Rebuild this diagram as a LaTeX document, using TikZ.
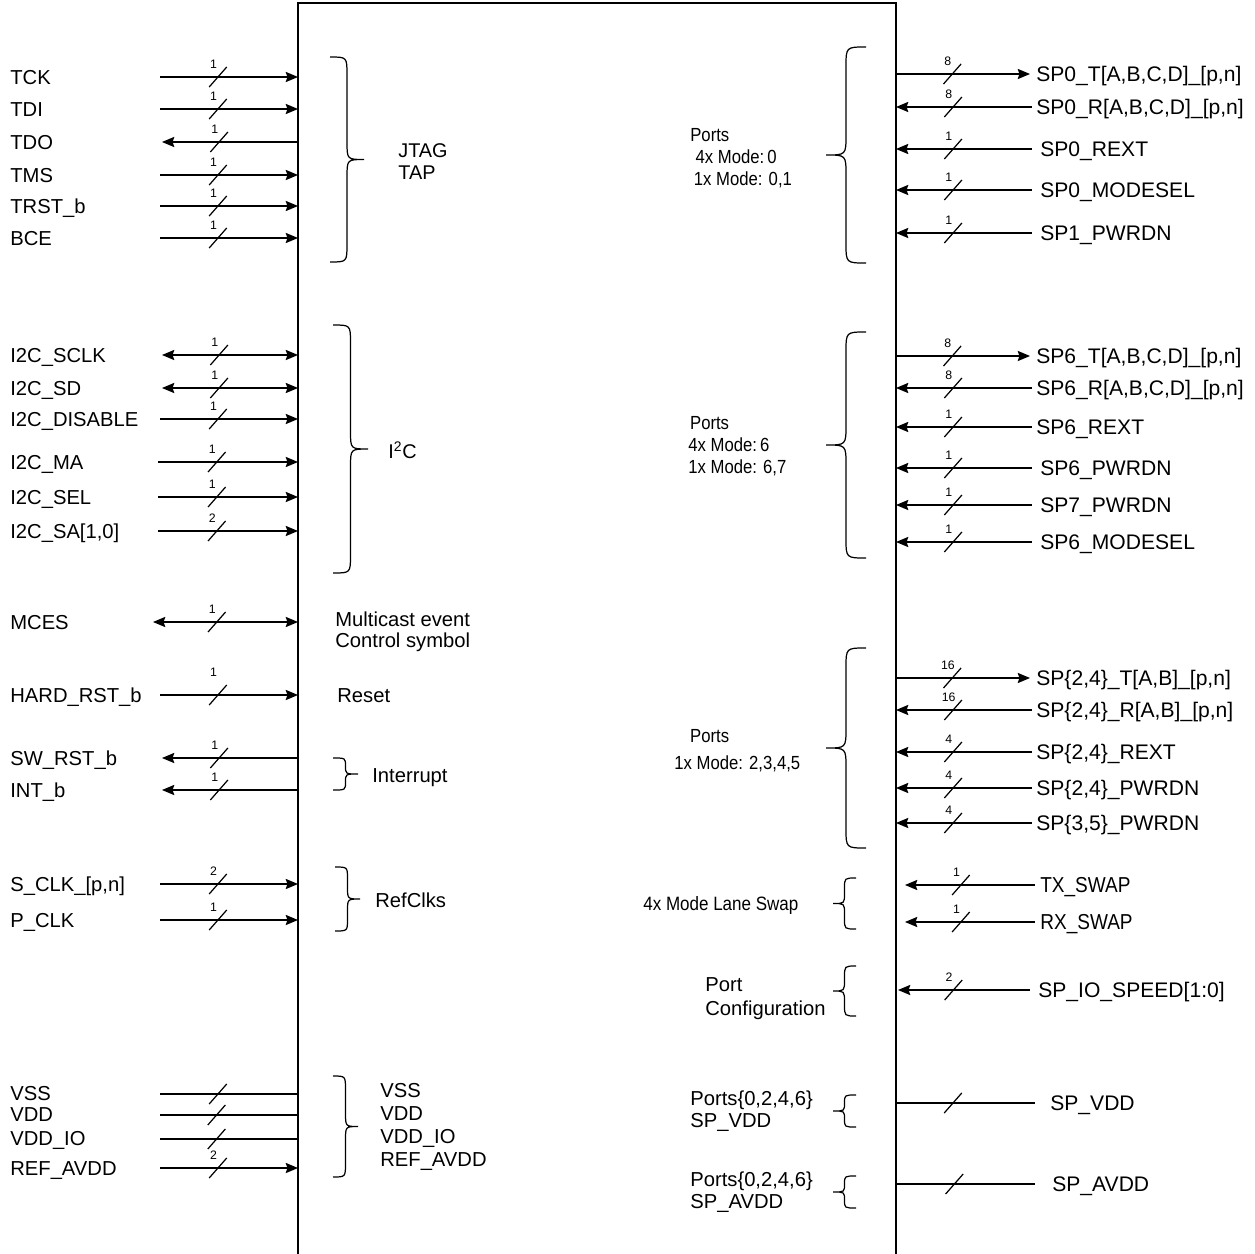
\documentclass[tikz,border=0pt]{standalone}
\usepackage{fontspec}
\setmainfont{Liberation Sans}
\newfontfamily\narrowsf[FakeStretch=0.88]{Liberation Sans}
\usetikzlibrary{arrows.meta}

% brace: x of the ends, top, bottom, signed width, corner size
\newcommand{\grpbrace}[5]{%
  \draw[grp] (#1,#2) .. controls ({#1+0.5*#4},#2) .. ({#1+0.5*#4},{#2+#5})
    -- ({#1+0.5*#4},{(#2+#3)/2-#5}) .. controls ({#1+0.5*#4},{(#2+#3)/2}) .. ({#1+#4},{(#2+#3)/2})
    .. controls ({#1+0.5*#4},{(#2+#3)/2}) .. ({#1+0.5*#4},{(#2+#3)/2+#5})
    -- ({#1+0.5*#4},{#3-#5}) .. controls ({#1+0.5*#4},#3) .. (#1,#3);}

\begin{document}
\begin{tikzpicture}[x=0.02cm,y=-0.02cm,
  wire/.style={line width=0.75pt},
  grp/.style={line width=0.7pt},
  lab/.style={anchor=west,inner sep=0pt,text height=8pt,text depth=0pt,font=\fontsize{11.5}{12.5}\selectfont},
  rlab/.style={lab,font=\fontsize{12}{13}\selectfont},
  txt/.style={anchor=west,inner sep=0pt,align=left,font=\fontsize{11.3}{12.5}\selectfont},
  nar/.style={anchor=west,inner sep=0pt,align=left,font=\narrowsf\fontsize{10.8}{12.5}\selectfont},
  narlab/.style={lab,font=\narrowsf\fontsize{12.3}{13}\selectfont},
  >={Stealth[length=7pt,width=5.8pt,inset=1pt]},
  bus/.pic={\draw[-,line width=0.7pt] (-5pt,-5.7pt) -- (5pt,5.7pt);
    \node[inner sep=0pt,font=\fontsize{7}{8}\selectfont] at (-2.5pt,7.3pt) {#1};},
  bushi/.pic={\draw[-,line width=0.7pt] (-5pt,-5.7pt) -- (5pt,5.7pt);
    \node[inner sep=0pt,font=\fontsize{7}{8}\selectfont] at (-2.5pt,13pt) {#1};}
]
\useasboundingbox (0,0) rectangle (1255,1254);

% device outline
\draw[wire] (298,1256) -- (298,3) -- (896,3) -- (896,1256);

% JTAG
\node[lab] (tck) at (10,77) {TCK};
\coordinate (tck-o) at (160,77); \coordinate (tck-i) at (298,77);
\draw[wire,->] (tck-o) -- pic[pos=0.42]{bus=1} (tck-i);
\node[lab] (tdi) at (10,109) {TDI};
\coordinate (tdi-o) at (160,109); \coordinate (tdi-i) at (298,109);
\draw[wire,->] (tdi-o) -- pic[pos=0.42]{bus=1} (tdi-i);
\node[lab] (tdo) at (10,142) {TDO};
\coordinate (tdo-o) at (162,142); \coordinate (tdo-i) at (298,142);
\draw[wire,<-] (tdo-o) -- pic[pos=0.42]{bus=1} (tdo-i);
\node[lab] (tms) at (10,175) {TMS};
\coordinate (tms-o) at (160,175); \coordinate (tms-i) at (298,175);
\draw[wire,->] (tms-o) -- pic[pos=0.42]{bus=1} (tms-i);
\node[lab] (trst) at (10,206) {TRST\_b};
\coordinate (trst-o) at (160,206); \coordinate (trst-i) at (298,206);
\draw[wire,->] (trst-o) -- pic[pos=0.42]{bus=1} (trst-i);
\node[lab] (bce) at (10,238) {BCE};
\coordinate (bce-o) at (160,238); \coordinate (bce-i) at (298,238);
\draw[wire,->] (bce-o) -- pic[pos=0.42]{bus=1} (bce-i);
\grpbrace{330}{57}{262}{34}{18}
\node[txt] (jtag) at (398,162) {JTAG\\TAP};

% I2C
\node[lab] (sclk) at (10,355) {I2C\_SCLK};
\coordinate (sclk-o) at (162,355); \coordinate (sclk-i) at (298,355);
\draw[wire,<->] (sclk-o) -- pic[pos=0.42]{bus=1} (sclk-i);
\node[lab] (sd) at (10,388) {I2C\_SD};
\coordinate (sd-o) at (162,388); \coordinate (sd-i) at (298,388);
\draw[wire,<->] (sd-o) -- pic[pos=0.42]{bus=1} (sd-i);
\node[lab] (disable) at (10,419) {I2C\_DISABLE};
\coordinate (disable-o) at (160,419); \coordinate (disable-i) at (298,419);
\draw[wire,->] (disable-o) -- pic[pos=0.42]{bus=1} (disable-i);
\node[lab] (ma) at (10,462) {I2C\_MA};
\coordinate (ma-o) at (158,462); \coordinate (ma-i) at (298,462);
\draw[wire,->] (ma-o) -- pic[pos=0.42]{bus=1} (ma-i);
\node[lab] (sel) at (10,497) {I2C\_SEL};
\coordinate (sel-o) at (158,497); \coordinate (sel-i) at (298,497);
\draw[wire,->] (sel-o) -- pic[pos=0.42]{bus=1} (sel-i);
\node[lab] (sa) at (10,531) {I2C\_SA[1,0]};
\coordinate (sa-o) at (158,531); \coordinate (sa-i) at (298,531);
\draw[wire,->] (sa-o) -- pic[pos=0.42]{bus=2} (sa-i);
\grpbrace{333}{325}{573}{35}{18}
\node[txt] (i2c) at (388,450) {I\textsuperscript{2}C};

% misc control
\node[lab] (mces) at (10,622) {MCES};
\coordinate (mces-o) at (153,622); \coordinate (mces-i) at (298,622);
\draw[wire,<->] (mces-o) -- pic[pos=0.44]{bus=1} (mces-i);
\node[txt,font=\fontsize{11.5}{12}\selectfont] (mcast) at (335,632) {Multicast event\\Control symbol};
\node[lab] (hrst) at (10,695) {HARD\_RST\_b};
\coordinate (hrst-o) at (160,695); \coordinate (hrst-i) at (298,695);
\draw[wire,->] (hrst-o) -- pic[pos=0.42]{bushi=1} (hrst-i);
\node[lab] (reset) at (337,695) {Reset};
\node[lab] (swrst) at (10,758) {SW\_RST\_b};
\coordinate (swrst-o) at (162,758); \coordinate (swrst-i) at (298,758);
\draw[wire,<-] (swrst-o) -- pic[pos=0.42]{bus=1} (swrst-i);
\node[lab] (intb) at (10,790) {INT\_b};
\coordinate (intb-o) at (162,790); \coordinate (intb-i) at (298,790);
\draw[wire,<-] (intb-o) -- pic[pos=0.42]{bus=1} (intb-i);
\grpbrace{333}{758}{790}{25}{8}
\node[lab] (irq) at (372,775) {Interrupt};

% reference clocks
\node[lab] (sclkpn) at (10,884) {S\_CLK\_[p,n]};
\coordinate (sclkpn-o) at (160,884); \coordinate (sclkpn-i) at (298,884);
\draw[wire,->] (sclkpn-o) -- pic[pos=0.42]{bus=2} (sclkpn-i);
\node[lab] (pclk) at (10,920) {P\_CLK};
\coordinate (pclk-o) at (160,920); \coordinate (pclk-i) at (298,920);
\draw[wire,->] (pclk-o) -- pic[pos=0.42]{bus=1} (pclk-i);
\grpbrace{335}{867}{931}{25}{12}
\node[lab] (refclk) at (375,900) {RefClks};

% power
\node[lab] (vss) at (10,1093) {VSS};
\coordinate (vss-o) at (160,1094); \coordinate (vss-i) at (298,1094);
\draw[wire] (vss-o) -- pic[pos=0.42]{bus={}} (vss-i);
\node[lab] (vdd) at (10,1114) {VDD};
\coordinate (vdd-o) at (160,1115); \coordinate (vdd-i) at (298,1115);
\draw[wire] (vdd-o) -- pic[pos=0.41]{bus={}} (vdd-i);
\node[lab] (vddio) at (10,1138) {VDD\_IO};
\coordinate (vddio-o) at (160,1139); \coordinate (vddio-i) at (298,1139);
\draw[wire] (vddio-o) -- pic[pos=0.41]{bus={}} (vddio-i);
\node[lab] (refavdd) at (10,1168) {REF\_AVDD};
\coordinate (refavdd-o) at (160,1168); \coordinate (refavdd-i) at (298,1168);
\draw[wire,->] (refavdd-o) -- pic[pos=0.42]{bus=2} (refavdd-i);
\grpbrace{333}{1076}{1177}{25}{14}
\node[txt,font=\fontsize{11.5}{13}\selectfont] (pwr) at (380,1127) {VSS\\VDD\\VDD\_IO\\REF\_AVDD};

% port 0/1
\node[rlab] (sp0t) at (1036,74) {SP0\_T[A,B,C,D]\_[p,n]};
\coordinate (sp0t-i) at (896,74); \coordinate (sp0t-o) at (1030,74);
\draw[wire,->] (sp0t-i) -- pic[pos=0.42]{bus=8} (sp0t-o);
\node[rlab] (sp0r) at (1036,107) {SP0\_R[A,B,C,D]\_[p,n]};
\coordinate (sp0r-i) at (896,107); \coordinate (sp0r-o) at (1032,107);
\draw[wire,<-] (sp0r-i) -- pic[pos=0.42]{bus=8} (sp0r-o);
\node[rlab] (sp0rext) at (1040,149) {SP0\_REXT};
\coordinate (sp0rext-i) at (896,149); \coordinate (sp0rext-o) at (1032,149);
\draw[wire,<-] (sp0rext-i) -- pic[pos=0.42]{bus=1} (sp0rext-o);
\node[rlab] (sp0mode) at (1040,190) {SP0\_MODESEL};
\coordinate (sp0mode-i) at (896,190); \coordinate (sp0mode-o) at (1032,190);
\draw[wire,<-] (sp0mode-i) -- pic[pos=0.42]{bus=1} (sp0mode-o);
\node[rlab] (sp1pd) at (1040,233) {SP1\_PWRDN};
\coordinate (sp1pd-i) at (896,233); \coordinate (sp1pd-o) at (1032,233);
\draw[wire,<-] (sp1pd-i) -- pic[pos=0.42]{bus=1} (sp1pd-o);
\grpbrace{866}{47}{263}{-40}{20}
\node[nar] (ports0) at (690,158) {Ports\\\hspace{3pt}4x Mode:\,0\\\hspace{2pt}1x Mode: 0,1};

% port 6/7
\node[rlab] (sp6t) at (1036,356) {SP6\_T[A,B,C,D]\_[p,n]};
\coordinate (sp6t-i) at (896,356); \coordinate (sp6t-o) at (1030,356);
\draw[wire,->] (sp6t-i) -- pic[pos=0.42]{bus=8} (sp6t-o);
\node[rlab] (sp6r) at (1036,388) {SP6\_R[A,B,C,D]\_[p,n]};
\coordinate (sp6r-i) at (896,388); \coordinate (sp6r-o) at (1032,388);
\draw[wire,<-] (sp6r-i) -- pic[pos=0.42]{bus=8} (sp6r-o);
\node[rlab] (sp6rext) at (1036,427) {SP6\_REXT};
\coordinate (sp6rext-i) at (896,427); \coordinate (sp6rext-o) at (1032,427);
\draw[wire,<-] (sp6rext-i) -- pic[pos=0.42]{bus=1} (sp6rext-o);
\node[rlab] (sp6pd) at (1040,468) {SP6\_PWRDN};
\coordinate (sp6pd-i) at (896,468); \coordinate (sp6pd-o) at (1032,468);
\draw[wire,<-] (sp6pd-i) -- pic[pos=0.42]{bus=1} (sp6pd-o);
\node[rlab] (sp7pd) at (1040,505) {SP7\_PWRDN};
\coordinate (sp7pd-i) at (896,505); \coordinate (sp7pd-o) at (1032,505);
\draw[wire,<-] (sp7pd-i) -- pic[pos=0.42]{bus=1} (sp7pd-o);
\node[rlab] (sp6mode) at (1040,542) {SP6\_MODESEL};
\coordinate (sp6mode-i) at (896,542); \coordinate (sp6mode-o) at (1032,542);
\draw[wire,<-] (sp6mode-i) -- pic[pos=0.42]{bus=1} (sp6mode-o);
\grpbrace{866}{332}{558}{-40}{20}
\node[nar] (ports6) at (688,446) {\hspace{1pt}Ports\\4x Mode:\,6\\1x Mode: 6,7};

% ports 2..5
\node[rlab] (sp24t) at (1036,678) {SP\{2,4\}\_T[A,B]\_[p,n]};
\coordinate (sp24t-i) at (896,678); \coordinate (sp24t-o) at (1030,678);
\draw[wire,->] (sp24t-i) -- pic[pos=0.42]{bus=16} (sp24t-o);
\node[rlab] (sp24r) at (1036,710) {SP\{2,4\}\_R[A,B]\_[p,n]};
\coordinate (sp24r-i) at (896,710); \coordinate (sp24r-o) at (1032,710);
\draw[wire,<-] (sp24r-i) -- pic[pos=0.42]{bus=16} (sp24r-o);
\node[rlab] (sp24rext) at (1036,752) {SP\{2,4\}\_REXT};
\coordinate (sp24rext-i) at (896,752); \coordinate (sp24rext-o) at (1032,752);
\draw[wire,<-] (sp24rext-i) -- pic[pos=0.42]{bus=4} (sp24rext-o);
\node[rlab] (sp24pd) at (1036,788) {SP\{2,4\}\_PWRDN};
\coordinate (sp24pd-i) at (896,788); \coordinate (sp24pd-o) at (1032,788);
\draw[wire,<-] (sp24pd-i) -- pic[pos=0.42]{bus=4} (sp24pd-o);
\node[rlab] (sp35pd) at (1036,823) {SP\{3,5\}\_PWRDN};
\coordinate (sp35pd-i) at (896,823); \coordinate (sp35pd-o) at (1032,823);
\draw[wire,<-] (sp35pd-i) -- pic[pos=0.42]{bus=4} (sp35pd-o);
\grpbrace{866}{648}{848}{-40}{20}
\node[nar,font=\narrowsf\fontsize{10.8}{15.3}\selectfont] (ports25) at (674,751) {\hspace{9pt}Ports\\1x Mode: 2,3,4,5};

% lane swap
\node[narlab] (txswap) at (1040,885) {TX\_SWAP};
\coordinate (txswap-i) at (905,885); \coordinate (txswap-o) at (1035,885);
\draw[wire,<-] (txswap-i) -- pic[pos=0.43]{bus=1} (txswap-o);
\node[narlab] (rxswap) at (1040,922) {RX\_SWAP};
\coordinate (rxswap-i) at (905,922); \coordinate (rxswap-o) at (1035,922);
\draw[wire,<-] (rxswap-i) -- pic[pos=0.43]{bus=1} (rxswap-o);
\grpbrace{856}{878}{929}{-23}{10}
\node[nar,font=\narrowsf\fontsize{11}{12.5}\selectfont] (swap) at (643,905) {4x Mode Lane Swap};

% port configuration
\node[rlab] (iospeed) at (1038,990) {SP\_IO\_SPEED[1:0]};
\coordinate (iospeed-i) at (898,990); \coordinate (iospeed-o) at (1030,990);
\draw[wire,<-] (iospeed-i) -- pic[pos=0.42]{bus=2} (iospeed-o);
\grpbrace{856}{966}{1016}{-23}{11}
\node[txt,font=\fontsize{11.5}{13.6}\selectfont] (pcfg) at (705,999) {Port\\Configuration};

% SerDes supplies
\node[rlab] (spvdd) at (1050,1103) {SP\_VDD};
\coordinate (spvdd-i) at (896,1103); \coordinate (spvdd-o) at (1035,1103);
\draw[wire] (spvdd-i) -- pic[pos=0.41]{bus={}} (spvdd-o);
\grpbrace{856}{1095}{1127}{-23}{8}
\node[txt,font=\fontsize{11.5}{12.5}\selectfont] (vddgrp) at (690,1111) {Ports\{0,2,4,6\}\\SP\_VDD};
\node[rlab] (spavdd) at (1052,1184) {SP\_AVDD};
\coordinate (spavdd-i) at (896,1184); \coordinate (spavdd-o) at (1035,1184);
\draw[wire] (spavdd-i) -- pic[pos=0.42]{bus={}} (spavdd-o);
\grpbrace{856}{1176}{1208}{-23}{8}
\node[txt,font=\fontsize{11.5}{12.5}\selectfont] (avddgrp) at (690,1192) {Ports\{0,2,4,6\}\\SP\_AVDD};
\end{tikzpicture}
\end{document}
